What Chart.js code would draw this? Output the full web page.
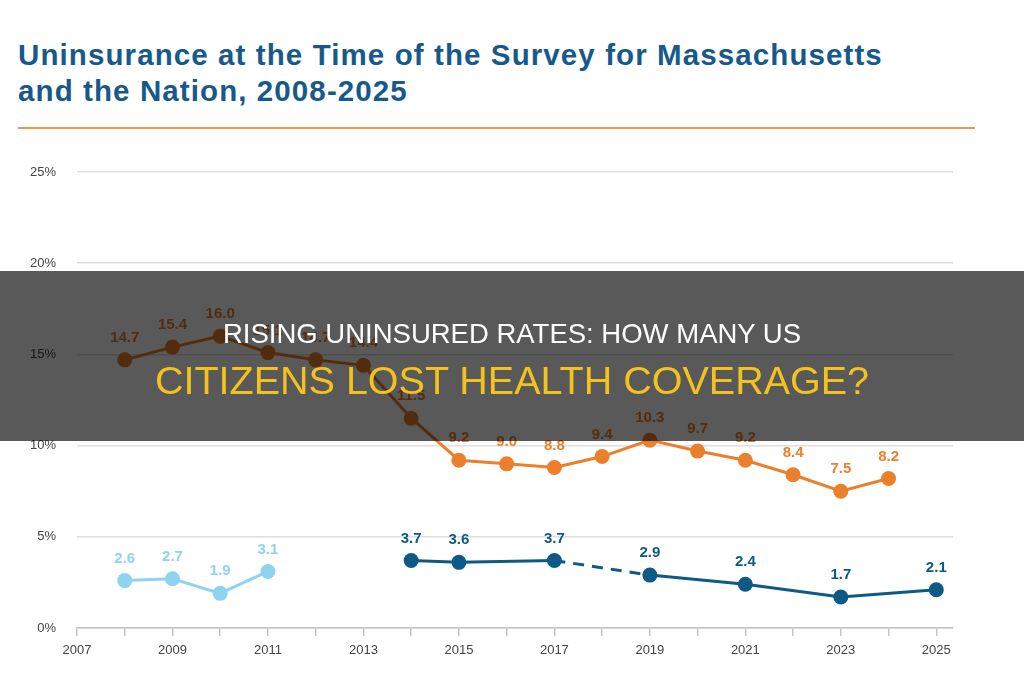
<!DOCTYPE html>
<html>
<head>
<meta charset="utf-8">
<script src="https://cdn.jsdelivr.net/npm/chart.js@4.4.0/dist/chart.umd.min.js"></script>
<style>
  html, body { margin: 0; padding: 0; background: #fff; }
  #page { position: relative; width: 1024px; height: 680px; overflow: hidden; font-family: "Liberation Sans", Arial, sans-serif; }
  #title { position: absolute; left: 18px; top: 37px; color: #17598a; font-size: 29.5px; font-weight: bold; line-height: 36px; letter-spacing: 1.1px; }
  #rule { position: absolute; left: 18px; top: 127px; width: 957px; height: 2px; background: #f0974e; }
  #wrap { position: absolute; left: 0; top: 140px; width: 1024px; height: 540px; }
  #band { position: absolute; left: 0; top: 271px; width: 1024px; height: 170px; background: rgba(0,0,0,0.65); z-index: 5; text-align: center; }
  .l1 { position: absolute; left: 0; width: 100%; top: 47px; color: #fff; font-size: 27.5px; }
  .l2 { position: absolute; left: 0; width: 100%; top: 87px; color: #f4c21c; font-size: 39.5px; }
</style>
</head>
<body>
<div id="page">
  <div id="title">Uninsurance at the Time of the Survey for Massachusetts<br>and the Nation, 2008-2025</div>
  <div id="rule"></div>
  <div id="wrap"><canvas id="myChart"></canvas></div>
  <div id="band">
    <div class="l1">RISING UNINSURED RATES: HOW MANY US</div>
    <div class="l2">CITIZENS LOST HEALTH COVERAGE?</div>
  </div>
</div>
<script>
// nation
var nationYears = [2008, 2009, 2010, 2011, 2012, 2013, 2014, 2015, 2016, 2017, 2018, 2019, 2020, 2021, 2022, 2023, 2024];
var nationRate = [14.7, 15.4, 16.0, 15.1, 14.7, 14.4, 11.5, 9.2, 9.0, 8.8, 9.4, 10.3, 9.7, 9.2, 8.4, 7.5, 8.2];
// massachusetts, old survey
var maOldYears = [2008, 2009, 2010, 2011];
var maOldRate = [2.6, 2.7, 1.9, 3.1];
// massachusetts, new survey
var maNewYears = [2014, 2015, 2017, 2019, 2021, 2023, 2025];
var maNewRate = [3.7, 3.6, 3.7, 2.9, 2.4, 1.7, 2.1];
var yTicks = [0, 5, 10, 15, 20, 25];

var orange = "#ec7f2b";
var darkBlue = "#0d5a87";
var lightBlue = "#8ed3f0";

function pts(xs, ys) {
    return xs.map(function (x, i) { return { x: x, y: ys[i] }; });
}

function lineSet(data, color) {
    return {
        data: data,
        borderColor: color,
        backgroundColor: color,
        pointBackgroundColor: color,
        pointBorderWidth: 0,
        pointRadius: 7.5,
        borderWidth: 3,
        tension: 0
    };
}

var maNew = lineSet(pts(maNewYears, maNewRate), darkBlue);
maNew.segment = {
    borderDash: function (ctx) { return ctx.p0.parsed.x === 2017 ? [11, 8] : undefined; }
};

var valueLabels = {
    id: "valueLabels",
    afterDatasetsDraw: function (chart) {
        var ctx = chart.ctx;
        ctx.save();
        ctx.font = "bold 15px 'Liberation Sans', Arial, sans-serif";
        ctx.textAlign = "center";
        ctx.textBaseline = "middle";
        chart.data.datasets.forEach(function (ds, i) {
            var meta = chart.getDatasetMeta(i);
            ctx.fillStyle = ds.borderColor;
            meta.data.forEach(function (p, j) {
                ctx.fillText(ds.data[j].y.toFixed(1), p.x, p.y - 22);
            });
        });
        ctx.restore();
    }
};

var myChart = new Chart(document.getElementById("myChart").getContext("2d"), {
    type: "line",
    data: {
        datasets: [
            lineSet(pts(nationYears, nationRate), orange),
            lineSet(pts(maOldYears, maOldRate), lightBlue),
            maNew
        ]
    },
    plugins: [valueLabels],
    options: {
        responsive: true,
        maintainAspectRatio: false,
        animation: false,
        layout: { padding: { top: 32, right: 71, left: 0, bottom: 0 } },
        plugins: { legend: { display: false }, tooltip: { enabled: false } },
        scales: {
            x: {
                type: "linear",
                min: 2007,
                max: 2025.35,
                afterFit: function (s) { s.height = 52; },
                border: { color: "#c4c4c4", width: 1.5 },
                grid: { drawOnChartArea: false, tickLength: 8, color: "#c4c4c4", lineWidth: 1.5 },
                ticks: {
                    stepSize: 1,
                    autoSkip: false,
                    includeBounds: false,
                    maxRotation: 0,
                    padding: 7,
                    color: "#444",
                    font: { size: 13, family: "'Liberation Sans', Arial, sans-serif" },
                    callback: function (v) { return v % 2 === 1 ? String(v) : ""; }
                }
            },
            y: {
                min: yTicks[0],
                max: yTicks[yTicks.length - 1],
                afterFit: function (s) { s.width = 77; },
                afterBuildTicks: function (s) { s.ticks = yTicks.map(function (v) { return { value: v }; }); },
                border: { display: false },
                grid: { drawTicks: false, color: "#dedede", lineWidth: 1.5 },
                ticks: {
                    padding: 21,
                    color: "#444",
                    font: { size: 13, family: "'Liberation Sans', Arial, sans-serif" },
                    callback: function (v) { return v + "%"; }
                }
            }
        }
    }
});
</script>
</body>
</html>
